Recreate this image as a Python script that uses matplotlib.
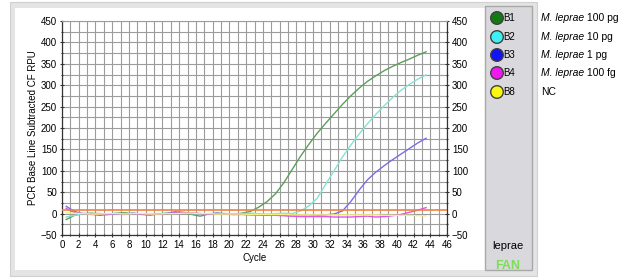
import numpy as np
import matplotlib.pyplot as plt
from matplotlib.patches import Rectangle, Ellipse

plt.rcParams['font.family'] = ['Liberation Sans', 'DejaVu Sans']

# данные: циклы ПЦР и флуоресценция (RFU) для каждой лунки
cycles = np.arange(1, 45) - 0.5

b1 = [-14, -4, 0, 1, 0, -1, 1, 2, 0, -2, -3, -1, 1, 3, 2, -2, -6, -1, 1, 0, -1, 1,
      5, 15, 28, 46, 72, 103, 134, 162, 188, 211, 233, 255, 275, 293, 309, 322, 334,
      344, 353, 361, 370, 378]
b2 = [-8, -4, 0, 0, -1, -2, -1, 0, 1, -1, -2, 0, 1, 2, 1, 0, -1, 0, 1, 0, -1, 0,
      1, 0, -1, 0, 1, 0, 6, 18, 36, 68, 100, 132, 160, 186, 210, 232, 252, 271,
      288, 302, 314, 324]
b3 = [17, 5, 0, -1, -4, -2, -1, -2, 1, -1, -3, -1, 0, 4, 3, 1, 0, -1, 1, -1, -2,
      -1, -2, -3, -4, -4, -4, -5, -6, -6, -5, -3, -1, 6, 28, 55, 79, 97, 112, 126,
      139, 152, 165, 176]
b4 = [12, 2, 0, -2, -2, -1, 0, -1, 0, -1, -2, -1, 0, 1, 2, 1, 0, -1, 0, -1, -2,
      -2, -3, -3, -4, -4, -5, -6, -7, -7, -7, -7, -8, -8, -8, -7, -6, -8, -7, -5,
      -2, 3, 8, 14]
nc = [2, 1, 0, -1, -1, 0, 0, -1, 0, 0, -1, -1, 0, 0, 1, 1, 0, 0, -1, -1, -1, -1,
      -2, -2, -2, -2, -2, -3, -3, -3, -3, -3, -3, -3, -3, -3, -3, -3, -4, -4, -4,
      -4, -5, -5]
threshold = 8

wells = ['B1', 'B2', 'B3', 'B4', 'B8']
samples = ['100 pg', '10 pg', '1 pg', '100 fg', None]
line_colors = ['#5c9e5c', '#86e2d2', '#7a6ee6', '#e054e6', '#f2f07a']
dot_colors = ['#137a13', '#3ef0f4', '#1414f0', '#f018f0', '#f8f810']

W, H = 633, 280
fig = plt.figure(figsize=(W / 100, H / 100), dpi=100)


def fx(px):
    return px / W


def fy(py):
    return 1 - py / H


# рамка окна и панель легенды (под осями)
fig.patches.append(Rectangle((fx(10), fy(276)), 527 / W, 274 / H, transform=fig.transFigure,
                             facecolor='#e4e4e4', edgecolor='#d0d0d0', lw=0.8, zorder=-3))
fig.patches.append(Rectangle((fx(15), fy(270)), 470 / W, 262 / H, transform=fig.transFigure,
                             facecolor='white', edgecolor='none', zorder=-2))
fig.patches.append(Rectangle((fx(485), fy(270)), 47 / W, 264 / H, transform=fig.transFigure,
                             facecolor='#d9d9dd', edgecolor='#a8a8a8', lw=1.0, zorder=-2))

ax = fig.add_axes([fx(62), fy(235), 385 / W, 214 / H])
ax.set_facecolor('white')

series = [b1, b2, b3, b4, nc]
for vals, c in zip(series, line_colors):
    ax.plot(cycles, vals, color=c, lw=1.0, zorder=3)
ax.axhline(threshold, color='#f08040', lw=1.2, zorder=4)

ax.set_xlim(0, 46)
ax.set_ylim(-50, 450)
ax.set_xticks(np.arange(0, 47, 2))
ax.set_xticks(np.arange(0, 47, 1), minor=True)
ax.set_yticks(np.arange(-50, 451, 50))
ax.set_yticks(np.arange(-50, 451, 25), minor=True)
ax.grid(which='both', color='#9c9c9c', lw=0.8)
ax.set_axisbelow(True)
ax.tick_params(which='both', direction='inout', length=3, width=0.8, colors='#333333',
               labelsize=7, labelcolor='black', right=True, labelright=True, pad=2)
ax.tick_params(which='minor', length=2)
for s in ['left', 'right', 'bottom']:
    ax.spines[s].set_color('#333333')
    ax.spines[s].set_linewidth(0.9)
ax.spines['top'].set_color('#9c9c9c')
ax.set_xlabel('Cycle', fontsize=7, labelpad=2)
ax.set_ylabel('PCR Base Line Subtracted CF RPU', fontsize=7, labelpad=2)

# легенда: кружки с номерами лунок и подписи образцов
ys = [18, 37, 55, 73, 92]
r = 6.3
for w, s, dc, py in zip(wells, samples, dot_colors, ys):
    fig.patches.append(Ellipse((fx(497), fy(py)), 2 * r / W, 2 * r / H,
                               transform=fig.transFigure, facecolor=dc,
                               edgecolor='#404040', lw=1.0, zorder=2))
    fig.text(fx(503), fy(py), w, fontsize=7, va='center', ha='left')
    if s:
        # курсивное название вида, затем обычный текст сразу после него
        t = fig.text(fx(541), fy(py), 'M. leprae', fontsize=7.5, va='center', ha='left',
                     style='italic')
        ax.annotate(' ' + s, xy=(1, 0.5), xycoords=t, va='center', ha='left',
                    fontsize=7.5, annotation_clip=False)
    else:
        fig.text(fx(541), fy(py), 'NC', fontsize=7.5, va='center', ha='left')

fig.text(fx(508), fy(246), 'leprae', fontsize=8, ha='center', va='center')
fig.text(fx(508), fy(266), 'FAN', fontsize=9, ha='center', va='center',
         color='#7edc5a', fontweight='bold')

fig.savefig('out.png', dpi=100)
